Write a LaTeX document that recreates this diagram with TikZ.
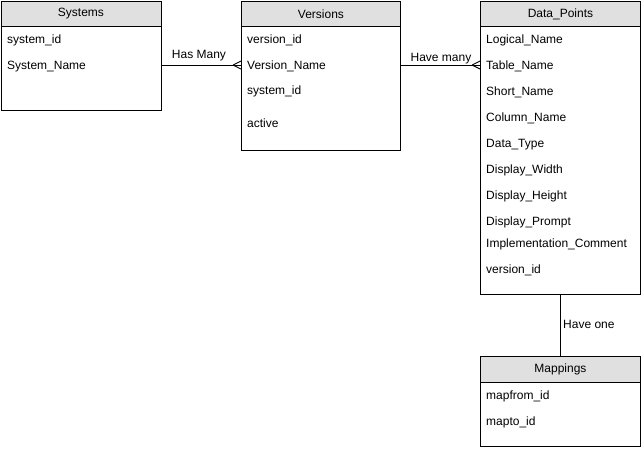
\documentclass[tikz,border=0pt]{standalone}
\usepackage{fontspec}
\setmainfont{Liberation Sans}
\definecolor{hdr}{HTML}{E0E0E0}
\begin{document}
\begin{tikzpicture}[x=1pt,y=-1pt,font=\fontsize{12}{14}\selectfont,
  box/.style={draw=black,line width=0.9pt,anchor=north west,inner sep=0pt},
  head/.style={draw=black,fill=hdr,line width=0.9pt,anchor=north west,inner sep=0pt},
  field/.style={anchor=base west,inner sep=0pt},
  rel/.style={draw=black,line width=0.9pt},
  lbl/.style={anchor=base,inner sep=0pt}]
\useasboundingbox (0,0) rectangle (641,448);
% Systems
\node[box,minimum width=160pt,minimum height=109pt] (sys) at (0.5,1) {};
\node[head,minimum width=160pt,minimum height=25pt] (sysh) at (0.5,1) {Systems};
\node[field] (s1) at (7,43.5) {system\_id};
\node[field] (s2) at (7,69.5) {System\_Name};
% Versions
\node[box,minimum width=159pt,minimum height=149pt] (ver) at (241,1) {};
\node[head,minimum width=159pt,minimum height=25pt] (verh) at (241,1) {Versions};
\node[field] (v1) at (247,43.5) {version\_id};
\node[field] (v2) at (247,69) {Version\_Name};
\node[field] (v3) at (247,94.5) {system\_id};
\node[field] (v4) at (247,127) {active};
% Data_Points
\node[box,minimum width=160pt,minimum height=293pt] (dp) at (480,1) {};
\node[head,minimum width=160pt,minimum height=25pt] (dph) at (480,1) {Data\_Points};
\node[field] (d1) at (486,43.5) {Logical\_Name};
\node[field] (d2) at (486,69.5) {Table\_Name};
\node[field] (d3) at (486,95.5) {Short\_Name};
\node[field] (d4) at (486,121.5) {Column\_Name};
\node[field] (d5) at (486,147.5) {Data\_Type};
\node[field] (d6) at (486,173.5) {Display\_Width};
\node[field] (d7) at (486,199.5) {Display\_Height};
\node[field] (d8) at (486,225.5) {Display\_Prompt};
\node[field] (d9) at (486,247.5) {Implementation\_Comment};
\node[field] (d10) at (486,273.5) {version\_id};
% Mappings
\node[box,minimum width=160pt,minimum height=90pt] (map) at (480,356) {};
\node[head,minimum width=160pt,minimum height=26pt] (maph) at (480,356) {Mappings};
\node[field] (m1) at (486,399.5) {mapfrom\_id};
\node[field] (m2) at (486,425.5) {mapto\_id};
% connectors
\coordinate (r1) at (0,65);
\draw[rel] (sys.east |- r1) -- (ver.west |- r1);
\draw[rel] (ver.west |- r1) ++(-8,0) -- ++(8,-4) (ver.west |- r1) ++(-8,0) -- ++(8,4);
\node[lbl] (l1) at (199,58) {Has Many};
\draw[rel] (ver.east |- r1) -- (dp.west |- r1);
\draw[rel] (dp.west |- r1) ++(-8,0) -- ++(8,-4) (dp.west |- r1) ++(-8,0) -- ++(8,4);
\node[lbl] (l2) at (441,61) {Have many};
\draw[rel] (dp.south) -- (maph.north);
\node[field] (l3) at (563,328.5) {Have one};
\end{tikzpicture}
\end{document}
